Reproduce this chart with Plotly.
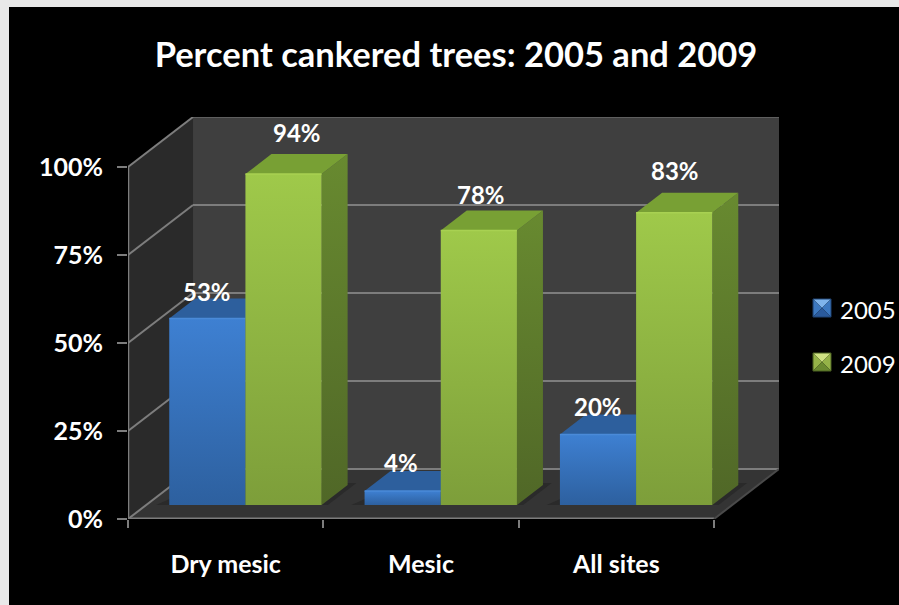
import plotly.graph_objects as go

# Chart content
categories = ["Dry mesic", "Mesic", "All sites"]
series_names = ["2005", "2009"]
values_2005 = [53, 4, 20]
values_2009 = [94, 78, 83]
y_ticks = [0, 25, 50, 75, 100]

# Plot box in pixels: the front plane of the 3-D box plus its depth offset
LEFT, RIGHT_FRONT, BASE, TOP = 128, 714, 519, 167
DEPTH_X, DEPTH_Y = 65, 50
W, H = 899, 605
PX_PER_CAT = (RIGHT_FRONT - LEFT) / len(categories)
PX_PER_PCT = (BASE - TOP) / 100
PAPER_W = W - LEFT
PAPER_H = BASE - (TOP - DEPTH_Y)

DX = DEPTH_X / PX_PER_CAT
DY = DEPTH_Y / PX_PER_PCT


def project(cat, pct, depth):
    """Oblique projection from (category, percent, depth 0..1) to axis units."""
    return cat + DX * depth, pct + DY * depth


def paper(px, py):
    """Page pixels to paper fractions."""
    return (px - LEFT) / PAPER_W, (BASE - py) / PAPER_H


def path(points):
    return "M" + " L".join(f"{x:.4f},{y:.4f}" for x, y in points) + " Z"


def wall(points, color):
    return dict(type="path", path=path(points), xref="x", yref="y",
                fillcolor=color, line_width=0, layer="below")


def seg(a, b, color="#7d7d7d", width=2):
    return dict(type="line", x0=a[0], y0=a[1], x1=b[0], y1=b[1], xref="x", yref="y",
                line=dict(color=color, width=width), layer="below")


n = len(categories)
shapes = [
    # black slide panel on the pale page
    dict(type="rect", xref="paper", yref="paper", x0=paper(9, 0)[0], x1=1,
         y0=paper(0, H)[1], y1=paper(0, 7)[1],
         fillcolor="#000000", line_width=0, layer="below"),
    wall([project(0, 0, 0), project(0, 100, 0), project(0, 100, 1), project(0, 0, 1)], "#2a2a2a"),
    wall([project(0, 0, 1), project(0, 100, 1), project(n, 100, 1), project(n, 0, 1)], "#3f3f3f"),
    wall([project(0, 0, 0), project(n, 0, 0), project(n, 0, 1), project(0, 0, 1)], "#343434"),
]

# Soft shadow on the floor around each bar group
for i in range(n):
    shapes.append(wall([project(i + 0.05, 0, 0.28), project(i + 0.93, 0, 0.28),
                        project(i + 0.93, 0, 0.72), project(i + 0.16, 0, 0.72)], "#2a2a2a"))

# Gridlines across the back wall and the left wall
for t in y_ticks:
    shapes.append(seg(project(0, t, 1), project(n, t, 1), "#7d7d7d" if t < 100 else "#5f5f5f"))
    shapes.append(seg(project(0, t, 0), project(0, t, 1)))

# Box edges
shapes.append(seg(project(0, 0, 0), project(0, 100, 0), "#7d7d7d", 2.5))
shapes.append(seg(project(0, 0, 0), project(n, 0, 0), "#7d7d7d", 3))
shapes.append(seg(project(n, 0, 0), project(n, 0, 1), "#4a4a4a", 2))

fig = go.Figure()

BAR_OFFSET = 0.118
BAR_WIDTH = 0.39
D0, D1 = 0.28, 0.68

PALETTE = {
    "2005": dict(front=("#3e80d2", "#2d609f"), side=("#2a5a96", "#234a7c"),
                 top="#2d5f9d", edge="#4a8ad8",
                 key=dict(up="#7fb4ec", mid="#3c78c0", down="#2a5a9c", rim="#1f4272")),
    "2009": dict(front=("#9fc94a", "#7d9e3a"), side=("#688a30", "#506727"),
                 top="#78a034", edge="#a8d152",
                 key=dict(up="#cfe283", mid="#95b348", down="#6b8a30", rim="#4c6322")),
}


def face(points, fill, gradient=None):
    xs = [p[0] for p in points] + [points[0][0]]
    ys = [p[1] for p in points] + [points[0][1]]
    kwargs = dict(fillgradient=dict(type="vertical", colorscale=[[0, gradient[1]], [1, gradient[0]]])) \
        if gradient else dict(fillcolor=fill)
    fig.add_trace(go.Scatter(x=xs, y=ys, mode="lines", fill="toself",
                             line=dict(color="rgba(0,0,0,0)", width=0),
                             hoverinfo="skip", showlegend=False, **kwargs))


for name, vals, slot in zip(series_names, [values_2005, values_2009], [0, 1]):
    c = PALETTE[name]
    for i, v in enumerate(vals):
        x0 = i + BAR_OFFSET + slot * BAR_WIDTH
        x1 = x0 + BAR_WIDTH
        face([project(x1, 0, D0), project(x1, v, D0), project(x1, v, D1), project(x1, 0, D1)], None, c["side"])
        face([project(x0, v, D0), project(x1, v, D0), project(x1, v, D1), project(x0, v, D1)], c["top"])
        face([project(x0, 0, D0), project(x1, 0, D0), project(x1, v, D0), project(x0, v, D0)], None, c["front"])
        fig.add_trace(go.Scatter(x=[project(x0, v, D0)[0], project(x1, v, D0)[0]],
                                 y=[project(x0, v, D0)[1]] * 2, mode="lines",
                                 line=dict(color=c["edge"], width=1.5), hoverinfo="skip", showlegend=False))

# Value labels, nudged off the bar tops where they would collide
label_shift = {
    "2005": [(0, 18), (-2, 19), (0, 19)],
    "2009": [(13, 33), (2, 27), (1, 33)],
}
LABEL_FONT = dict(family="Lato", size=24, color="#ffffff", weight=700)
AXIS_FONT = dict(family="Lato", size=25, color="#ffffff", weight=700)
annotations = []
for name, vals, slot in zip(series_names, [values_2005, values_2009], [0, 1]):
    for i, v in enumerate(vals):
        xc = i + BAR_OFFSET + slot * BAR_WIDTH + BAR_WIDTH / 2
        px, py = project(xc, v, D0)
        sx, sy = label_shift[name][i]
        annotations.append(dict(x=px, y=py, xref="x", yref="y", text=f"{v}%", showarrow=False,
                                xshift=sx, yshift=sy + 9, font=LABEL_FONT))

# Legend keys: small bevelled squares built from four triangles, with the series name beside them
KEY_X, KEY_SIZE, KEY_TEXT_X = 813, 18, 840
KEY_ROWS = [299, 353]
for name, top_px in zip(series_names, KEY_ROWS):
    k = PALETTE[name]["key"]
    l, r, t, b = KEY_X, KEY_X + KEY_SIZE, top_px, top_px + KEY_SIZE
    cx, cy = (l + r) / 2, (t + b) / 2
    tris = [((l, t), (r, t), k["up"]), ((l, t), (l, b), k["mid"]),
            ((r, t), (r, b), k["mid"]), ((l, b), (r, b), k["down"])]
    for p, q, color in tris:
        shapes.append(dict(type="path", xref="paper", yref="paper",
                           path=path([paper(*p), paper(*q), paper(cx, cy)]),
                           fillcolor=color, line_width=0))
    x0, y0 = paper(l, b)
    x1, y1 = paper(r, t)
    shapes.append(dict(type="rect", xref="paper", yref="paper", x0=x0, y0=y0, x1=x1, y1=y1,
                       fillcolor="rgba(0,0,0,0)", line=dict(color=k["rim"], width=1)))
    tx, ty = paper(KEY_TEXT_X, cy + 1)
    annotations.append(dict(x=tx, y=ty, xref="paper", yref="paper", text=name, showarrow=False,
                            xanchor="left", yanchor="middle", xshift=-2,
                            font=dict(family="Lato", size=24, color="#ffffff")))

fig.update_layout(
    width=W, height=H, autosize=False, showlegend=False,
    margin=dict(l=LEFT, r=0, t=TOP - DEPTH_Y, b=H - BASE, pad=0),
    paper_bgcolor="#e9e9e9", plot_bgcolor="rgba(0,0,0,0)",
    title=dict(text="<b>Percent cankered trees: 2005 and 2009</b>", x=456 / W, xanchor="center",
               y=1 - 55 / H, yanchor="middle", font=dict(family="Lato", size=34.5, color="#ffffff")),
    shapes=shapes, annotations=annotations,
    xaxis=dict(domain=[0, (RIGHT_FRONT + DEPTH_X - LEFT) / PAPER_W],
               range=[0, n + DX], showgrid=False, zeroline=False, showline=False,
               tickvals=[i + 0.5 for i in range(n)], ticktext=categories, ticks="",
               ticklabelstandoff=28, tickfont=AXIS_FONT,
               minor=dict(tickvals=list(range(n + 1)), ticks="outside", ticklen=8, tickcolor="#7d7d7d", tickwidth=2)),
    yaxis=dict(range=[0, 100 + DY], showgrid=False, zeroline=False, showline=False,
               tickvals=y_ticks, ticktext=[f"{t}%" for t in y_ticks], ticks="outside", ticklen=10,
               tickcolor="#7d7d7d", tickwidth=2, ticklabelstandoff=9, tickfont=AXIS_FONT),
)

fig.write_html("out.html", config=dict(displayModeBar=False))
